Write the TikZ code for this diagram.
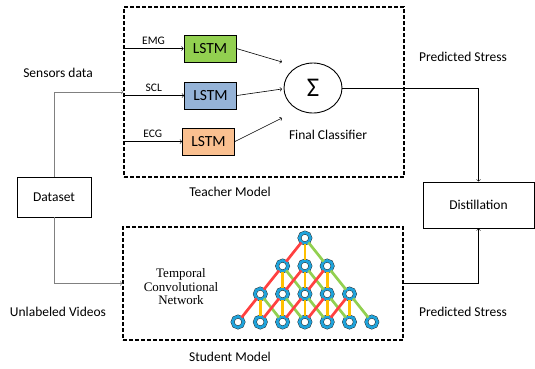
\documentclass[tikz,border=0pt]{standalone}
\usepackage{fontspec}
\setmainfont{Carlito}
\newfontfamily\tcnfont{Liberation Serif}
\usepackage{xcolor}
\usepackage{tikz}
\usetikzlibrary{arrows,calc,positioning,shapes.geometric}
\definecolor{lstmgreen}{HTML}{92D050}
\definecolor{lstmblue}{HTML}{95B3D7}
\definecolor{lstmorange}{HTML}{FAC090}
\definecolor{tcnblue}{HTML}{1FA3DB}
\definecolor{edgered}{HTML}{FF4040}
\definecolor{edgeyellow}{HTML}{FFC000}
\definecolor{edgegreen}{HTML}{92D050}
\begin{document}
\begin{tikzpicture}[x=1pt,y=-1pt,>=to,
  lstm/.style={draw,line width=0.8pt,minimum width=52pt,minimum height=27pt,inner sep=0pt,font=\fontsize{15.5}{18}\selectfont},
  plainbox/.style={draw,line width=0.9pt,inner sep=0pt,font=\fontsize{13.5}{16}\selectfont},
  modelbox/.style={draw,line width=1.1pt,dash pattern=on 4pt off 2pt,inner sep=0pt},
  lbl/.style={font=\fontsize{13.5}{16}\selectfont},
  sig/.style={font=\fontsize{11.5}{13}\selectfont},
  tcn/.style={circle,minimum size=11pt,inner sep=0pt,draw=black!85,double=tcnblue,double distance=2.8pt,line width=0.45pt,fill=white},
  tcnedge/.style={line width=2.7pt}]
\useasboundingbox (0,0) rectangle (535,368);
% model boxes
\node [modelbox,minimum width=280pt,minimum height=170pt] (teacher) at (264,92) {};
\node [modelbox,minimum width=280pt,minimum height=113pt] (student) at (263,283.5) {};
\node [lbl] (teacherlbl) at (230,192) {Teacher Model};
\node [lbl] (studentlbl) at (230,357) {Student Model};
% dataset and distillation
\node [plainbox,minimum width=74pt,minimum height=40pt] (dataset) at (54,197) {Dataset};
\node [plainbox,minimum width=111pt,minimum height=46pt] (distill) at (478.5,205) {Distillation};
\node [lbl] (sensors) at (58,73) {Sensors data};
\node [lbl] (videos) at (58,312) {Unlabeled Videos};
\node [lbl] (predA) at (463,57) {Predicted Stress};
\node [lbl] (predB) at (463,312) {Predicted Stress};
\draw [gray,line width=0.7pt,->] (dataset.north) |- (teacher.west);
\draw [gray,line width=0.7pt,->] (dataset.south) |- (student.west);
% teacher
\node [lstm,fill=lstmgreen] (lstmA) at (210,48.5) {LSTM};
\node [lstm,fill=lstmblue] (lstmB) at (210.5,95.5) {LSTM};
\node [lstm,fill=lstmorange] (lstmC) at (208.5,141.5) {LSTM};
\node [ellipse,draw,line width=0.9pt,minimum width=58pt,minimum height=50pt,inner sep=0pt,font=\fontsize{27}{28}\selectfont] (sum) at (313,88) {Σ};
\node [lbl] (final) at (328,135) {Final Classifier};
\draw [->,line width=0.6pt] (teacher.west |- lstmA.west) -- node [sig,above] {EMG} (lstmA.west);
\draw [->,line width=0.6pt] (teacher.west |- lstmB.west) -- node [sig,above] {SCL} (lstmB.west);
\draw [->,line width=0.6pt] (teacher.west |- lstmC.west) -- node [sig,above] {ECG} (lstmC.west);
\coordinate (inA) at ($(sum.center)+(-31,-26)$);
\coordinate (inB) at ($(sum.center)+(-31,1)$);
\coordinate (inC) at ($(sum.center)+(-31,30)$);
\draw [->,line width=0.6pt] (lstmA.east) -- (inA);
\draw [->,line width=0.6pt] (lstmB.east) -- (inB);
\draw [->,line width=0.6pt] (lstmC.east) -- (inC);
\draw [->,line width=0.6pt] (sum.east) -| (distill.north);
\draw [->,line width=0.6pt] (student.east) -| (distill.south);
% student: temporal convolutional network
\node [align=center,font=\tcnfont\fontsize{13}{13.5}\selectfont] (tcnlbl) at (181,287) {Temporal\\Convolutional\\Network};
\foreach \r in {0,...,3} {
  \pgfmathtruncatemacro\lo{3-\r}
  \pgfmathtruncatemacro\hi{3+\r}
  \foreach \p in {\lo,...,\hi}
    \node [tcn] (n-\r-\p) at (238+22.3*\p,238+28*\r) {};
}
\foreach \r in {0,...,2} {
  \pgfmathtruncatemacro\lo{3-\r}
  \pgfmathtruncatemacro\hi{3+\r}
  \pgfmathtruncatemacro\s{\r+1}
  \foreach \p in {\lo,...,\hi} {
    \pgfmathtruncatemacro\pl{\p-1}
    \pgfmathtruncatemacro\pr{\p+1}
    \draw [tcnedge,edgeyellow] (n-\r-\p) -- (n-\s-\p);
    \draw [tcnedge,edgegreen] (n-\r-\p) -- (n-\s-\pr);
    \draw [tcnedge,edgered] (n-\r-\p) -- (n-\s-\pl);
  }
}
\end{tikzpicture}
\end{document}
